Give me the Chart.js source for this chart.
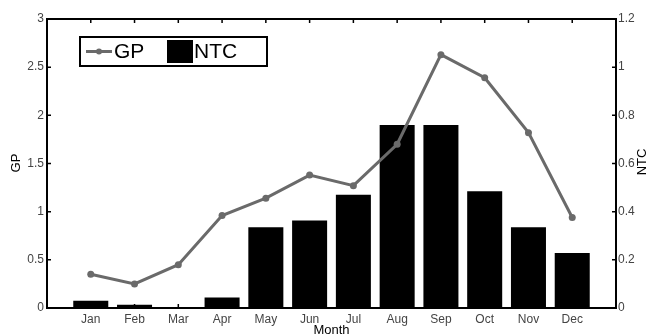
<!DOCTYPE html>
<html>
<head>
<meta charset="utf-8">
<script src="https://cdn.jsdelivr.net/npm/chart.js@4.4.0/dist/chart.umd.min.js"></script>
<style>
  html, body { margin: 0; padding: 0; background: #fff; }
  #wrap { width: 648px; height: 334px; }
</style>
</head>
<body>
<div id="wrap"><canvas id="mycanvas" width="648" height="334"></canvas></div>
<script>
// data
let months = ["Jan", "Feb", "Mar", "Apr", "May", "Jun", "Jul", "Aug", "Sep", "Oct", "Nov", "Dec"];
let gp = [0.35, 0.25, 0.45, 0.96, 1.14, 1.38, 1.27, 1.70, 2.63, 2.39, 1.82, 0.94];
let ntc = [0.03, 0.013, 0, 0.044, 0.335, 0.363, 0.47, 0.76, 0.76, 0.485, 0.335, 0.228];
let gpTicks = [0, 0.5, 1, 1.5, 2, 2.5, 3];
let ntcTicks = [0, 0.2, 0.4, 0.6, 0.8, 1, 1.2];

let font = "'Liberation Sans', Arial, sans-serif";
let lineColor = "#6a6a6a";

let gpPoints = [];
let ntcPoints = [];
for (let i in months) {
    gpPoints.push({x: Number(i) + 1, y: gp[i]});
    ntcPoints.push({x: Number(i) + 1, y: ntc[i]});
}

// matlab style numbers: 1 not 1.0
let plainNum = v => String(+Number(v).toFixed(2));

// frame, inward ticks, axis titles and the boxed legend
let extras = {
    id: "extras",
    afterDraw(chart) {
        let c = chart.ctx;
        let a = chart.chartArea;
        let sx = chart.scales.x, sl = chart.scales.yGP, sr = chart.scales.yNTC;
        c.save();
        c.strokeStyle = "#000";
        c.lineWidth = 2;
        c.strokeRect(a.left, a.top, a.right - a.left, a.bottom - a.top);

        c.lineWidth = 1.5;
        c.beginPath();
        for (let i = 1; i <= months.length; i++) {
            let x = sx.getPixelForValue(i);
            c.moveTo(x, a.bottom); c.lineTo(x, a.bottom - 4);
            c.moveTo(x, a.top); c.lineTo(x, a.top + 4);
        }
        gpTicks.forEach(v => {
            let y = sl.getPixelForValue(v);
            c.moveTo(a.left, y); c.lineTo(a.left + 4, y);
        });
        ntcTicks.forEach(v => {
            let y = sr.getPixelForValue(v);
            c.moveTo(a.right, y); c.lineTo(a.right - 4, y);
        });
        c.stroke();

        // axis titles
        c.fillStyle = "#000";
        c.font = "13px " + font;
        c.textAlign = "center";
        c.textBaseline = "middle";
        c.fillText("Month", (a.left + a.right) / 2, 330);
        c.save();
        c.translate(16, 163);
        c.rotate(-Math.PI / 2);
        c.fillText("GP", 0, 0);
        c.restore();
        c.save();
        c.translate(642, 162);
        c.rotate(-Math.PI / 2);
        c.fillText("NTC", 0, 0);
        c.restore();

        // legend
        let lx = 80, ly = 37, lw = 187, lh = 29;
        c.fillStyle = "#fff";
        c.fillRect(lx, ly, lw, lh);
        c.lineWidth = 2;
        c.strokeStyle = "#000";
        c.strokeRect(lx, ly, lw, lh);
        let my = ly + lh / 2;
        c.strokeStyle = lineColor;
        c.lineWidth = 3;
        c.beginPath();
        c.moveTo(86, my); c.lineTo(112, my);
        c.stroke();
        c.fillStyle = lineColor;
        c.beginPath();
        c.arc(99, my, 3, 0, Math.PI * 2);
        c.fill();
        c.fillStyle = "#000";
        c.fillRect(167, ly + 3, 26, lh - 6);
        c.font = "21px " + font;
        c.textAlign = "left";
        c.fillText("GP", 114, my + 1);
        c.fillText("NTC", 194, my + 1);
        c.restore();
    }
};

let chartdata = {
    datasets: [
        {
            type: "line",
            label: "GP",
            data: gpPoints,
            yAxisID: "yGP",
            borderColor: lineColor,
            backgroundColor: lineColor,
            borderWidth: 3,
            pointRadius: 3.5,
            pointBackgroundColor: lineColor,
            pointBorderWidth: 0,
            lineTension: 0,
            fill: false,
            order: 1
        },
        {
            type: "bar",
            label: "NTC",
            data: ntcPoints,
            yAxisID: "yNTC",
            backgroundColor: "#000",
            borderWidth: 0,
            barPercentage: 0.8,
            categoryPercentage: 1.0,
            order: 2
        }
    ]
};

let ctx = document.getElementById("mycanvas");

let ComboGraph = new Chart(ctx, {
    type: "line",
    data: chartdata,
    plugins: [extras],
    options: {
        responsive: false,
        animation: false,
        layout: { padding: { top: 19, left: 0, right: 0, bottom: 0 } },
        plugins: { legend: { display: false }, tooltip: { enabled: false } },
        scales: {
            x: {
                type: "linear",
                min: 0,
                max: 13,
                offset: false,
                grid: { display: false, offset: false, drawTicks: false },
                border: { display: false },
                afterFit: s => { s.height = 26; },
                ticks: {
                    stepSize: 1,
                    autoSkip: false,
                    maxRotation: 0,
                    padding: 4,
                    color: "#444",
                    font: { family: font, size: 12 },
                    callback: v => months[v - 1] || ""
                }
            },
            yGP: {
                type: "linear",
                position: "left",
                min: 0,
                max: 3,
                grid: { display: false, drawTicks: false },
                border: { display: false },
                afterFit: s => { s.width = 47; },
                ticks: {
                    stepSize: 0.5,
                    padding: 3,
                    color: "#444",
                    font: { family: font, size: 12 },
                    callback: plainNum
                }
            },
            yNTC: {
                type: "linear",
                position: "right",
                min: 0,
                max: 1.2,
                grid: { display: false, drawTicks: false },
                border: { display: false },
                afterFit: s => { s.width = 32; },
                ticks: {
                    stepSize: 0.2,
                    padding: 2,
                    color: "#444",
                    font: { family: font, size: 12 },
                    callback: plainNum
                }
            }
        }
    }
});
</script>
</body>
</html>
